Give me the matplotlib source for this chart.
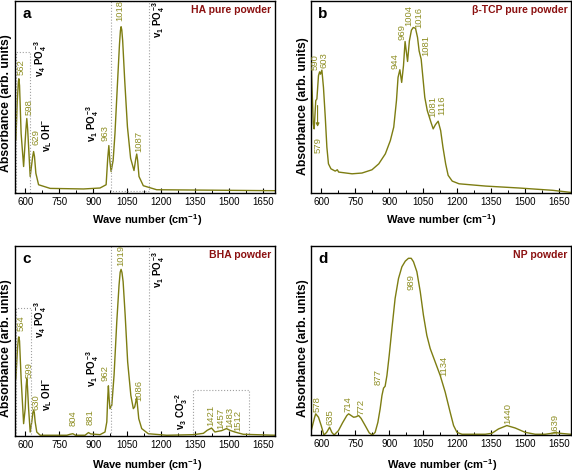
import matplotlib
matplotlib.use("Agg")
import matplotlib.pyplot as plt

plt.rcParams['font.family'] = ['Liberation Sans', 'DejaVu Sans']
plt.rcParams['mathtext.fontset'] = 'custom'
plt.rcParams['mathtext.rm'] = 'Liberation Sans:bold'
plt.rcParams['mathtext.it'] = 'Liberation Sans:bold'
plt.rcParams['mathtext.bf'] = 'Liberation Sans:bold'

# ---------------- data ----------------
ha_wn = [559, 565, 570, 572, 575, 582, 593, 603, 607, 611, 622, 633, 637, 641, 647, 659, 710,
         857, 930, 957, 964, 969, 974, 979, 988, 996, 1007, 1016, 1020, 1023, 1026, 1030, 1039,
         1051, 1065, 1080, 1088, 1092, 1096, 1102, 1121, 1180, 1701]
ha_abs = [0.276, 0.48, 0.58, 0.595, 0.56, 0.31, 0.138, 0.33, 0.388, 0.33, 0.086, 0.19, 0.216,
          0.19, 0.103, 0.043, 0.024, 0.021, 0.026, 0.043, 0.18, 0.247, 0.16, 0.112, 0.17, 0.31,
          0.569, 0.776, 0.845, 0.866, 0.85, 0.793, 0.586, 0.345, 0.181, 0.117, 0.18, 0.203,
          0.17, 0.086, 0.038, 0.017, 0.012]

tcp_wn = [554, 559, 565, 569, 576, 581, 588, 593, 597, 603, 610, 618, 625, 632, 643, 662,
          671, 677, 736, 780, 824, 854, 883, 905, 920, 932, 939, 947, 955, 963, 970, 981,
          989, 998, 1006, 1016, 1025, 1032, 1041, 1050, 1057, 1068, 1075, 1084, 1094, 1104,
          1116, 1127, 1137, 1149, 1160, 1178, 1208, 1326, 1473, 1621, 1702]
tcp_abs = [0.758, 0.567, 0.36, 0.334, 0.481, 0.49, 0.611, 0.631, 0.619, 0.64, 0.55, 0.394,
           0.239, 0.152, 0.126, 0.114, 0.121, 0.109, 0.1, 0.104, 0.121, 0.152, 0.204, 0.273,
           0.343, 0.481, 0.602, 0.642, 0.576, 0.663, 0.789, 0.685, 0.792, 0.848, 0.862, 0.858,
           0.81, 0.74, 0.697, 0.585, 0.498, 0.429, 0.403, 0.369, 0.334, 0.356, 0.374, 0.325,
           0.239, 0.152, 0.092, 0.062, 0.048, 0.036, 0.026, 0.014, 0.003]

bha_wn = [559, 566, 570, 572, 575, 582, 593, 600, 604, 607, 610, 615, 622, 629, 634, 637, 640,
          644, 651, 666, 784, 798, 810, 822, 864, 879, 889, 930, 952, 960, 964, 967, 970, 974,
          982, 992, 1004, 1014, 1019, 1023, 1027, 1032, 1041, 1052, 1066, 1077, 1083, 1092, 1101,
          1114, 1143, 1224, 1342, 1386, 1403, 1422, 1437, 1452, 1466, 1488, 1503, 1525, 1562, 1701]
bha_abs = [0.302, 0.46, 0.515, 0.522, 0.5, 0.302, 0.065, 0.144, 0.26, 0.302, 0.26, 0.144, 0.021,
           0.074, 0.125, 0.135, 0.125, 0.074, 0.021, 0.004, 0.004, 0.009, 0.012, 0.004, 0.004,
           0.018, 0.011, 0.007, 0.021, 0.074, 0.2, 0.264, 0.2, 0.144, 0.162, 0.32, 0.601, 0.794,
           0.862, 0.877, 0.86, 0.812, 0.636, 0.39, 0.214, 0.144, 0.153, 0.202, 0.091, 0.039,
           0.012, 0.004, 0.007, 0.014, 0.03, 0.042, 0.021, 0.025, 0.028, 0.039, 0.03, 0.021,
           0.009, 0.004]

np_wn = [556, 571, 576, 582, 588, 600, 612, 624, 637, 647, 657, 676, 694, 713, 721, 732,
         743, 753, 765, 776, 794, 812, 826, 838, 850, 860, 868, 875, 882, 890, 900, 912, 926,
         941, 956, 971, 985, 997, 1007, 1022, 1037, 1051, 1066, 1081, 1103, 1125, 1147, 1169,
         1184, 1199, 1221, 1324, 1353, 1382, 1419, 1456, 1500, 1544, 1588, 1618, 1632, 1654, 1699]
np_abs = [0.023, 0.094, 0.112, 0.103, 0.094, 0.05, 0.0, 0.014, 0.041, 0.014, 0.0, 0.023,
          0.064, 0.103, 0.112, 0.103, 0.094, 0.096, 0.103, 0.088, 0.05, 0.011, 0.0, 0.014,
          0.067, 0.138, 0.209, 0.248, 0.258, 0.315, 0.421, 0.563, 0.722, 0.828, 0.89, 0.92,
          0.935, 0.935, 0.917, 0.864, 0.758, 0.634, 0.527, 0.457, 0.386, 0.315, 0.227, 0.12,
          0.05, 0.014, 0.004, 0.004, 0.009, 0.032, 0.05, 0.037, 0.014, 0.004, 0.004, 0.009,
          0.014, 0.009, 0.004]

# peak labels: (text, x, y)
ha_peaks = [("562", 581, 0.655), ("598", 619, 0.448), ("629", 648, 0.293),
            ("963", 952, 0.31), ("1018", 1018, 0.948), ("1087", 1099, 0.267)]
tcp_peaks = [("590", 575, 0.683), ("603", 612, 0.692), ("944", 924, 0.689),
             ("969", 957, 0.836), ("1004", 986, 0.922), ("1016", 1031, 0.913),
             ("1081", 1060, 0.766), ("1081", 1092, 0.45), ("1116", 1133, 0.455)]
bha_peaks = [("564", 581, 0.592), ("599", 616, 0.346), ("630", 648, 0.179),
             ("804", 810, 0.095), ("881", 886, 0.1), ("962", 952, 0.329),
             ("1019", 1021, 0.949), ("1086", 1101, 0.241), ("1421", 1420, 0.109),
             ("1457", 1463, 0.091), ("1483", 1501, 0.1), ("1512", 1538, 0.083)]
np_peaks = [("578", 584, 0.165), ("635", 640, 0.094), ("714", 718, 0.165),
            ("772", 776, 0.147), ("877", 853, 0.306), ("989", 997, 0.81),
            ("1134", 1140, 0.368), ("1440", 1424, 0.112), ("1639", 1632, 0.058)]

# vibration mode labels: (text, x, y)
ha_modes = [(r"$v_4$ $PO_4^{-3}$", 669, 0.70), (r"$v_L$ $OH^{-}$", 695, 0.30),
            (r"$v_1$ $PO_4^{-3}$", 898, 0.36), (r"$v_1$ $PO_4^{-3}$", 1187, 0.905)]
bha_modes = [(r"$v_4$ $PO_4^{-3}$", 669, 0.61), (r"$v_L$ $OH^{-}$", 695, 0.218),
             (r"$v_1$ $PO_4^{-3}$", 898, 0.355), (r"$v_1$ $PO_4^{-3}$", 1187, 0.873),
             (r"$v_3$ $CO_3^{-2}$", 1290, 0.127)]

# dotted boxes: (x0, x1, y0, y1)
ha_boxes = [(560, 622, 0.0, 0.733), (979, 1146, 0.01, 1.0)]
bha_boxes = [(560, 624, 0.0, 0.675), (979, 1146, 0.0, 1.0), (1342, 1588, 0.0, 0.24)]

titles = ["HA pure powder", "β-TCP pure powder", "BHA powder", "NP powder"]
letters = ["a", "b", "c", "d"]
xticks = [600, 750, 900, 1050, 1200, 1350, 1500, 1650]

LINE = "#7d7d12"
LBL = "#8f8f25"
RED = "#8b1010"

fig = plt.figure(figsize=(5.72, 4.73), dpi=100)
W = 260 / 572
rects = [[15 / 572, 1 - 193 / 473, W, 192 / 473],
         [311 / 572, 1 - 193 / 473, W, 192 / 473],
         [15 / 572, 1 - 436 / 473, W, 190 / 473],
         [311 / 572, 1 - 435 / 473, W, 189 / 473]]
series = [(ha_wn, ha_abs, ha_peaks, ha_modes, ha_boxes),
          (tcp_wn, tcp_abs, tcp_peaks, [], []),
          (bha_wn, bha_abs, bha_peaks, bha_modes, bha_boxes),
          (np_wn, np_abs, np_peaks, [], [])]

for i, (rect, (wn, ab, peaks, modes, boxes)) in enumerate(zip(rects, series)):
    ax = fig.add_axes(rect)
    ax.plot(wn, ab, color=LINE, lw=1.0)
    ax.set_xlim(555, 1702)
    ax.set_ylim(0, 1)
    ax.set_xticks(xticks)
    ax.set_xticks([675, 825, 975, 1125, 1275, 1425, 1575], minor=True)
    ax.set_yticks([])
    ax.tick_params(axis='x', which='major', direction='in', length=3.5, width=0.8,
                   labelsize=7, pad=3)
    ax.tick_params(axis='x', which='minor', direction='in', length=2, width=0.7)
    for s in ax.spines.values():
        s.set_linewidth(1.0)
    for t, x, y in peaks:
        ax.text(x, y, t, rotation=90, ha='center', va='center', fontsize=6.8, color=LBL)
    for t, x, y in modes:
        ax.text(x, y, t, rotation=90, ha='center', va='center', fontsize=7, color='black')
    for x0, x1, y0, y1 in boxes:
        ax.plot([x0, x0, x1, x1, x0], [y0, y1, y1, y0, y0], ls=':', color='#a0a0a0', lw=0.8)
    ax.text(0.987, 0.955, titles[i], transform=ax.transAxes, ha='right', va='center',
            fontsize=7.5, fontweight='bold', color=RED)
    ax.text(0.045, 0.93, letters[i], transform=ax.transAxes, ha='center', va='center',
            fontsize=11, fontweight='bold')
    if i == 1:
        ax.annotate("", xy=(584, 0.33), xytext=(584, 0.47),
                    arrowprops=dict(arrowstyle='-|>', color=LINE, lw=0.8, mutation_scale=5))
        ax.text(588, 0.25, "579", rotation=90, ha='center', va='center', fontsize=6.8, color=LBL)

# axis labels
for x, y in [(6, 103), (303, 106), (6, 348), (303, 348)]:
    fig.text(x / 572, 1 - y / 473, "Absorbance (arb. units)", rotation=90, ha='center',
             va='center', fontsize=8.8, fontweight='bold')
for x, y in [(147, 220), (441, 220), (147, 465), (442, 465)]:
    fig.text(x / 572, 1 - y / 473, r"Wave number (cm$^{-1}$)", ha='center', va='center',
             fontsize=8, fontweight='bold')

fig.savefig("out.png", dpi=100)
